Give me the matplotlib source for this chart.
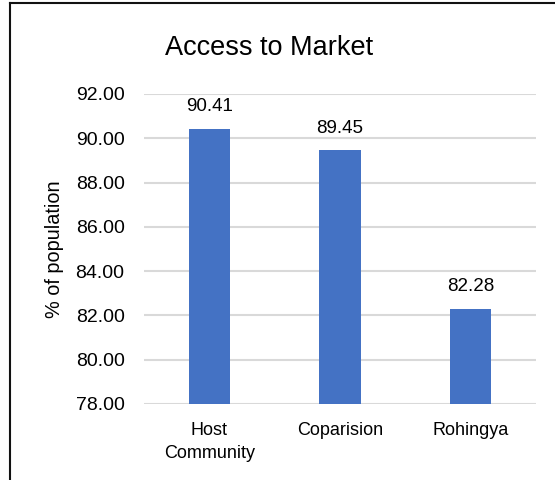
import matplotlib
matplotlib.use("Agg")
import matplotlib.pyplot as plt
from matplotlib.lines import Line2D

categories = ["Host\nCommunity", "Coparision", "Rohingya"]
values = [90.41, 89.45, 82.28]
yticks = [78, 80, 82, 84, 86, 88, 90, 92]

plt.rcParams["font.family"] = ["Liberation Sans", "DejaVu Sans"]

W, H = 555, 480
fig = plt.figure(figsize=(W / 100, H / 100), dpi=100)
ax = fig.add_axes([144 / W, 1 - 404 / H, (536 - 144) / W, (404 - 94) / H])

x = list(range(len(categories)))
ax.bar(x, values, width=0.315, color="#4472C4", zorder=3)

for xi, v in zip(x, values):
    ax.annotate(f"{v:.2f}", (xi, v), xytext=(0, 10), textcoords="offset points",
                ha="center", va="bottom", fontsize=13.5, color="#000000")

ax.set_xlim(-0.5, len(categories) - 0.5)
ax.set_ylim(min(yticks), max(yticks))
ax.set_yticks(yticks)
ax.set_yticklabels([f"{t:.2f}" for t in yticks], fontsize=14)
ax.set_xticks(x)
ax.set_xticklabels(categories, fontsize=13, linespacing=1.45)
ax.tick_params(axis="y", length=0, pad=14)
ax.tick_params(axis="x", length=0, pad=13)
ax.grid(axis="y", color="#D9D9D9", linewidth=1.5, zorder=0)
for s in ax.spines.values():
    s.set_visible(False)

fig.text(55 / W, 1 - 249 / H, "% of population", rotation=90, ha="center", va="center", fontsize=14.3)
fig.text(269 / W, 1 - 55 / H, "Access to Market", ha="center", va="baseline", fontsize=19.5)

# frame lines along top and left edges
fig.add_artist(Line2D([10 / W, 1], [1 - 3 / H, 1 - 3 / H], transform=fig.transFigure,
                      color="#111111", linewidth=1.5))
fig.add_artist(Line2D([10 / W, 10 / W], [0, 1 - 3 / H], transform=fig.transFigure,
                      color="#111111", linewidth=1.5))

fig.savefig("out.png", dpi=100)
